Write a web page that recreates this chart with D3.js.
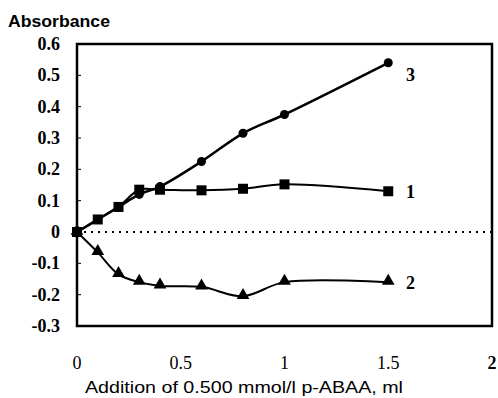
<!DOCTYPE html>
<html>
<head>
<meta charset="utf-8">
<script src="https://cdn.jsdelivr.net/npm/d3@7"></script>
<style>
  body { margin: 0; background: #fff; }
  svg { display: block; }
</style>
</head>
<body>
<div class="chart"></div>
<script>
// volume of p-ABAA added, ml
var xVals = [0, 0.1, 0.2, 0.3, 0.4, 0.6, 0.8, 1.0, 1.5];
// absorbance for the three curves
var curve1 = [0, 0.04, 0.08, 0.135, 0.135, 0.133, 0.138, 0.152, 0.13];
var curve2 = [0, -0.065, -0.135, -0.16, -0.172, -0.175, -0.205, -0.16, -0.16];
var curve3 = [0, 0.04, 0.08, 0.12, 0.145, 0.225, 0.315, 0.375, 0.54];
var seriesNames = ["1", "2", "3"];
var yTicks = [0.6, 0.5, 0.4, 0.3, 0.2, 0.1, 0, -0.1, -0.2, -0.3];
var xTicks = [0, 0.5, 1, 1.5, 2];

var w = 498, h = 398;
// plot box ("top" is taken by window, so pTop etc.)
var pLeft = 77, pTop = 44, pRight = 492, pBottom = 326;

var svg = d3.select(".chart").append("svg")
    .attr("width", w).attr("height", h);

var x = d3.scaleLinear().domain([0, 2]).range([pLeft, pRight]);
var y = d3.scaleLinear().domain([-0.3, 0.6]).range([pBottom, pTop]);

// dotted zero line
svg.append("line")
    .attr("x1", x(0)).attr("x2", x(2))
    .attr("y1", y(0)).attr("y2", y(0))
    .attr("stroke", "#000").attr("stroke-width", 2)
    .attr("stroke-dasharray", "2,5");

// small inner ticks on y axis
svg.selectAll(".ytk").data(yTicks).enter().append("line")
    .attr("x1", x(0)).attr("x2", x(0) + 4)
    .attr("y1", function(d) { return y(d); })
    .attr("y2", function(d) { return y(d); })
    .attr("stroke", "#000").attr("stroke-width", 1);

// frame
svg.append("rect")
    .attr("x", pLeft).attr("y", pTop)
    .attr("width", pRight - pLeft).attr("height", pBottom - pTop)
    .attr("fill", "none").attr("stroke", "#000").attr("stroke-width", 2.5);

// y tick labels
svg.selectAll(".ylab").data(yTicks).enter().append("text")
    .attr("x", 60)
    .attr("y", function(d) { return y(d) + 6; })
    .attr("text-anchor", "end")
    .attr("font-family", "'Liberation Serif', serif")
    .attr("font-weight", "bold")
    .attr("font-size", "18px")
    .text(function(d) { return d === 0 ? "0" : d3.format(".1f")(d).replace("−", "-"); });

// x tick labels
svg.selectAll(".xlab").data(xTicks).enter().append("text")
    .attr("x", function(d) { return x(d); })
    .attr("y", 369)
    .attr("text-anchor", "middle")
    .attr("font-family", "'Liberation Serif', serif")
    .attr("font-weight", function(d) { return d === 2 ? "bold" : "normal"; })
    .attr("font-size", "18px")
    .text(function(d) { return d; });

// axis titles
svg.append("text")
    .attr("x", 8).attr("y", 27)
    .attr("font-family", "'Liberation Sans', Arial, sans-serif")
    .attr("font-weight", "bold")
    .attr("font-size", "17px")
    .attr("textLength", 102).attr("lengthAdjust", "spacingAndGlyphs")
    .text("Absorbance");

svg.append("text")
    .attr("x", 85).attr("y", 393)
    .attr("font-family", "'Liberation Sans', Arial, sans-serif")
    .attr("font-size", "17px")
    .attr("textLength", 318).attr("lengthAdjust", "spacingAndGlyphs")
    .text("Addition of 0.500 mmol/l p-ABAA, ml");

var line = d3.line()
    .x(function(d, i) { return x(xVals[i]); })
    .y(function(d) { return y(d); })
    .curve(d3.curveCatmullRom.alpha(0.5));

[curve1, curve2, curve3].forEach(function(data, k) {
    svg.append("path")
        .attr("d", line(data))
        .attr("fill", "none")
        .attr("stroke", "#000")
        .attr("stroke-width", k === 2 ? 2.5 : 2);
});

// markers: squares for 1
svg.selectAll(".sq").data(curve1).enter().append("rect")
    .attr("x", function(d, i) { return x(xVals[i]) - 5; })
    .attr("y", function(d) { return y(d) - 5; })
    .attr("width", 10).attr("height", 10)
    .attr("fill", "#000");

// triangles for 2
svg.selectAll(".tri").data(curve2).enter().append("path")
    .attr("d", d3.symbol().type(d3.symbolTriangle).size(70))
    .attr("transform", function(d, i) { return "translate(" + x(xVals[i]) + "," + (y(d) - 1) + ")"; })
    .attr("fill", "#000");

// circles for 3
svg.selectAll(".dot").data(curve3).enter().append("circle")
    .attr("cx", function(d, i) { return x(xVals[i]); })
    .attr("cy", function(d) { return y(d); })
    .attr("r", 4.5)
    .attr("fill", "#000");

// curve labels
var lastVals = [curve1[curve1.length - 1], curve2[curve2.length - 1], curve3[curve3.length - 1]];
svg.selectAll(".clab").data(seriesNames).enter().append("text")
    .attr("x", 406)
    .attr("y", function(d, i) { return y(lastVals[i]) + (i === 2 ? 18 : 7); })
    .attr("font-family", "'Liberation Serif', serif")
    .attr("font-weight", "bold")
    .attr("font-size", "18px")
    .text(function(d) { return d; });
</script>
</body>
</html>
